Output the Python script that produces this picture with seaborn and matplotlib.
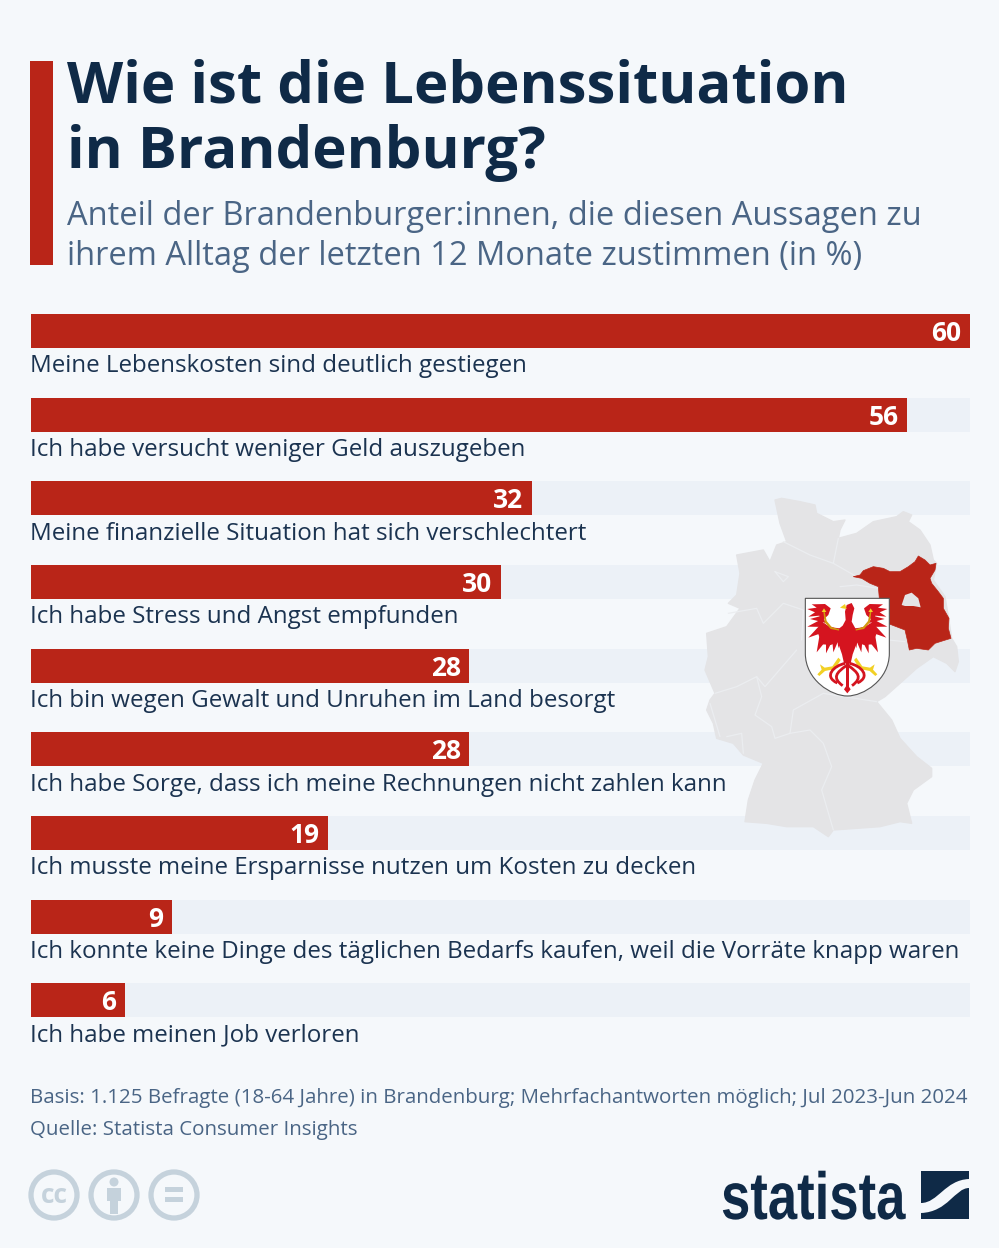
import numpy as np
import pandas as pd
import matplotlib
matplotlib.use('Agg')
import matplotlib.pyplot as plt
from matplotlib.patches import Polygon, PathPatch, Circle, Rectangle
from matplotlib.path import Path
from matplotlib.patheffects import AbstractPathEffect
from matplotlib.transforms import Affine2D
import seaborn as sns

# Data
statements = ['Meine Lebenskosten sind deutlich gestiegen',
              'Ich habe versucht weniger Geld auszugeben',
              'Meine finanzielle Situation hat sich verschlechtert',
              'Ich habe Stress und Angst empfunden',
              'Ich bin wegen Gewalt und Unruhen im Land besorgt',
              'Ich habe Sorge, dass ich meine Rechnungen nicht zahlen kann',
              'Ich musste meine Ersparnisse nutzen um Kosten zu decken',
              'Ich konnte keine Dinge des täglichen Bedarfs kaufen, weil die Vorräte knapp waren',
              'Ich habe meinen Job verloren']
shares = [60, 56, 32, 30, 28, 28, 19, 9, 6]
axis_max = 60

title_lines = ['Wie ist die Lebenssituation', 'in Brandenburg?']
subtitle_lines = ['Anteil der Brandenburger:innen, die diesen Aussagen zu',
                  'ihrem Alltag der letzten 12 Monate zustimmen (in %)']
footer_lines = ['Basis: 1.125 Befragte (18-64 Jahre) in Brandenburg; Mehrfachantworten möglich; Jul 2023-Jun 2024',
                'Quelle: Statista Consumer Insights']

# Colours
BG = '#f5f8fb'
RED = '#b92518'
TRACK = '#ecf1f7'
NAVY = '#0f2a47'
SLATE = '#4a6585'
LABEL = '#1b3350'
MAP_GREY = '#e4e4e6'
ICON = '#c5d2dc'
W, H = 999, 1248

sns.set_theme(style='white')
plt.rcParams['font.family'] = ['Open Sans', 'DejaVu Sans']

fig = plt.figure(figsize=(W / 100, H / 100), dpi=100, facecolor=BG)
px = Affine2D().scale(1 / W, -1 / H).translate(0, 1) + fig.transFigure


def put(x, y, s, **kw):
    return fig.text(x / W, 1 - y / H, s, va='baseline', **kw)


class Squeeze(AbstractPathEffect):
    # narrows the glyphs, no condensed bold font is installed
    def __init__(self, sx):
        super().__init__()
        self.sx = sx

    def draw_path(self, renderer, gc, tpath, affine, rgbFace=None):
        renderer.draw_path(gc, tpath, Affine2D().scale(self.sx, 1) + affine, rgbFace)


# bars: rows are 83.65px apart, bars 34px high
step = 83.65
top = 331 - step / 2
ax = fig.add_axes([31 / W, 1 - (top + 9 * step) / H, 939 / W, 9 * step / H])
ax.patch.set_alpha(0)
df = pd.DataFrame({'statement': statements, 'share': shares, 'full': axis_max})
sns.barplot(data=df, y='statement', x='full', color=TRACK, saturation=1, width=34 / step,
            linewidth=0, zorder=1, ax=ax)
sns.barplot(data=df, y='statement', x='share', color=RED, saturation=1, width=34 / step,
            linewidth=0, zorder=3, ax=ax)
ax.set_xlim(0, axis_max)
ax.set_ylim(8.5, -0.5)
ax.set(xlabel='', ylabel='', xticks=[], yticks=[])
sns.despine(ax=ax, left=True, bottom=True)

labels = ax.bar_label(ax.containers[-1], padding=-6.2, color='white', fontsize=19,
                      fontweight='bold', zorder=5)
for t in labels:
    t.set_ha('right')
    t.xyann = (t.xyann[0], t.xyann[1] - 1.8)

for i, s in enumerate(statements):
    put(30, 372.5 + i * step, s, color=LABEL, fontsize=17.4, zorder=6)


# map, traced in the 3x crop coordinates
def z(pts):
    a = np.array(pts, dtype=float)
    return np.column_stack([700 + a[:, 0] / 3, 480 + a[:, 1] / 3])


def zb(pts):
    a = np.array(pts, dtype=float)
    return np.column_stack([850 + a[:, 0] / 3, 550 + a[:, 1] / 3])


def ze(pts):
    a = np.array(pts, dtype=float)
    return np.column_stack([800 + a[:, 0] / 3, 595 + a[:, 1] / 3])


def mirror(pts):
    return [(284 - x, y) for x, y in pts]


germany = [(245, 55), (300, 65), (345, 75), (350, 100), (400, 125), (435, 120), (420, 150), (415, 175),
           (470, 160), (520, 125), (590, 110), (610, 95), (635, 105), (625, 125), (660, 150), (690, 195),
           (700, 240), (710, 250), (700, 300), (735, 350), (745, 410), (755, 475), (770, 500), (775, 545),
           (765, 575), (740, 550), (700, 530), (650, 565), (600, 610), (555, 650), (530, 665), (575, 720),
           (600, 775), (650, 830), (695, 865), (695, 890), (640, 930), (620, 970), (635, 1030), (600, 1025),
           (540, 1040), (470, 1045), (400, 1050), (385, 1070), (340, 1040), (260, 1040), (200, 1030),
           (135, 1025), (145, 960), (165, 900), (190, 850), (130, 825), (100, 790), (50, 775), (40, 730),
           (20, 690), (30, 660), (45, 640), (15, 570), (25, 530), (20, 460), (80, 440), (120, 385), (85, 370),
           (110, 345), (120, 280), (110, 225), (190, 210), (210, 245), (230, 195), (260, 185), (240, 130),
           (225, 60)]
brandenburg = [(10, 80), (30, 75), (40, 62), (70, 50), (100, 55), (120, 65), (150, 65), (175, 50), (195, 35),
               (205, 18), (225, 30), (240, 45), (258, 40), (255, 60), (240, 85), (245, 100), (265, 125),
               (280, 145), (280, 175), (297, 205), (295, 235), (303, 265), (280, 272), (255, 280), (235, 300),
               (200, 295), (178, 300), (172, 270), (165, 240), (118, 222), (118, 145), (88, 145), (85, 110),
               (60, 100), (35, 85)]
berlin = [(155, 165), (165, 135), (185, 128), (205, 145), (212, 172), (190, 168), (165, 168)]
state_borders = [
    [(250, 185), (330, 225), (400, 250), (415, 175)],
    [(400, 250), (470, 290)],
    [(420, 320), (470, 315), (535, 325)],
    [(85, 400), (170, 385), (190, 430), (250, 370), (310, 390), (305, 480)],
    [(45, 640), (110, 620), (170, 590), (195, 620), (290, 510)],
    [(170, 590), (185, 650), (165, 705), (215, 740), (225, 775), (270, 760), (330, 750), (370, 790), (395, 860),
     (365, 930), (400, 1050)],
    [(30, 670), (60, 770)],
    [(270, 760), (280, 690), (370, 640), (530, 665)],
    [(565, 480), (615, 485)],
    [(80, 770), (125, 760), (130, 820)],
    [(225, 275), (265, 290), (250, 305), (225, 275)],
]
ax.add_patch(Polygon(z(germany), transform=px, fc=MAP_GREY, ec=MAP_GREY, lw=1, joinstyle='round', zorder=2,
                     clip_on=False))
for line in state_borders:
    xy = z(line)
    ax.plot(xy[:, 0], xy[:, 1], transform=px, color='#ebedf0', lw=0.9, zorder=2.1, clip_on=False,
            scalex=False, scaley=False)
ax.add_patch(Polygon(zb(brandenburg), transform=px, fc=RED, ec=RED, lw=0.5, joinstyle='round', zorder=2.2,
                     clip_on=False))
ax.add_patch(Polygon(zb(berlin), transform=px, fc=MAP_GREY, ec='none', zorder=2.3, clip_on=False))

# coat of arms
shield = z([(316, 355), (568, 355), (568, 520), (568, 600), (490, 648), (442, 648),
            (394, 648), (316, 600), (316, 520), (316, 355)])
codes = [Path.MOVETO, Path.LINETO, Path.LINETO, Path.CURVE4, Path.CURVE4, Path.CURVE4,
         Path.CURVE4, Path.CURVE4, Path.CURVE4, Path.CLOSEPOLY]
ax.add_patch(PathPatch(Path(shield, codes), transform=px, fc='white', ec='#555555', lw=0.8,
                       zorder=4, clip_on=False))
EAGLE = '#d5141f'
GOLD = '#f2d024'
AMBER = '#d2980f'
upper_wing = [(92, 40), (75, 27), (35, 28), (50, 38), (22, 42), (45, 52), (25, 65), (58, 62), (62, 75), (72, 72),
              (85, 60)]
feathers = [[(66, 62), (78, 84), (30, 72)],
            [(62, 74), (82, 96), (22, 95)],
            [(62, 88), (88, 106), (25, 128)],
            [(62, 100), (88, 125), (50, 172)],
            [(78, 102), (106, 120), (78, 175)],
            [(94, 105), (120, 125), (100, 172)],
            [(108, 105), (124, 125), (115, 160)]]
lower_wing = [(118, 105), (75, 88), (55, 118), (68, 148), (92, 150), (118, 140)]
shoulder = [(120, 100), (85, 96), (72, 82), (78, 108), (118, 120)]
arc = [(70, 50), (74, 50), (80, 78), (95, 96), (118, 103), (118, 107), (92, 102), (74, 82)]
knob = [(72, 40), (79, 51), (65, 51)]
leg = [(115, 188), (122, 195), (105, 222), (75, 228), (58, 243), (52, 238), (65, 224), (60, 208), (74, 218),
       (97, 214)]
body = [(118, 100), (128, 92), (137, 75), (135, 50), (140, 30), (155, 24), (163, 40), (158, 60), (155, 80), (166, 100),
        (172, 140), (158, 178), (152, 205), (132, 205), (126, 178), (113, 140)]
tip = [(142, 268), (152, 283), (142, 295), (132, 283)]
beak = [(120, 38), (135, 27), (140, 42), (128, 40)]
curves = [[(136, 205), (100, 212), (70, 245), (112, 264)],
          [(139, 212), (110, 232), (95, 248), (128, 272)]]


def mark(pts, col, zo=4.1):
    ax.add_patch(Polygon(ze(pts), transform=px, fc=col, ec='none', zorder=zo, clip_on=False))


for part, col in [(upper_wing, EAGLE), (lower_wing, EAGLE), (shoulder, EAGLE), (arc, AMBER), (knob, GOLD), (leg, GOLD)]:
    mark(part, col, 4.15)
    mark(mirror(part), col, 4.15)
for part in feathers:
    mark(part, EAGLE)
    mark(mirror(part), EAGLE)
for c in curves:
    for pts in (c, mirror(c)):
        ax.add_patch(PathPatch(Path(ze(pts), [Path.MOVETO, Path.CURVE4, Path.CURVE4, Path.CURVE4]), transform=px,
                               fc='none', ec=EAGLE, lw=2, zorder=4.2, clip_on=False))
ax.add_patch(Rectangle(tuple(ze([(139, 200)])[0]), 2.2, 25, transform=px, fc=EAGLE, ec='none', zorder=4.2,
                       clip_on=False))
mark(tip, EAGLE, 4.2)
mark(body, EAGLE, 4.2)
mark(beak, GOLD, 4.3)

# header
ax.add_patch(Rectangle((30, 61), 23, 204, transform=px, fc=RED, ec='none', clip_on=False))
for y, s in zip([102.5, 168.5], title_lines):
    put(67, y, s, color=NAVY, fontsize=41.85, fontweight='bold')
for y, s in zip([225, 265], subtitle_lines):
    put(67, y, s, color=SLATE, fontsize=23.5)

# footer
for y, s in zip([1103.5, 1135.5], footer_lines):
    put(30, y, s, color=SLATE, fontsize=14.75)

for cx in [54, 114, 174]:
    ax.add_patch(Circle((cx, 1195), 23, transform=px, fc='none', ec=ICON, lw=3.8, clip_on=False))
put(54, 1203, 'cc', color=ICON, fontsize=19, fontweight='bold', ha='center')
ax.add_patch(Circle((114, 1182), 4.5, transform=px, fc=ICON, ec='none', clip_on=False))
ax.add_patch(Rectangle((107, 1188), 14, 13, transform=px, fc=ICON, ec='none', clip_on=False))
ax.add_patch(Rectangle((110, 1200), 8, 14, transform=px, fc=ICON, ec='none', clip_on=False))
ax.add_patch(Rectangle((165, 1187), 18, 5, transform=px, fc=ICON, ec='none', clip_on=False))
ax.add_patch(Rectangle((165, 1197), 18, 5, transform=px, fc=ICON, ec='none', clip_on=False))

# logo
logo = put(721, 1219, 'statista', color=NAVY, fontsize=48, fontweight='bold',
           family=['Liberation Sans', 'DejaVu Sans'])
logo.set_path_effects([Squeeze(0.79)])
ax.add_patch(Rectangle((921, 1171), 48, 48, transform=px, fc=NAVY, ec='none', clip_on=False))
wave = [(921, 1203), (938, 1203), (945, 1180), (969, 1179), (969, 1188), (955, 1188), (948, 1212), (921, 1213),
        (921, 1203)]
wave_codes = [Path.MOVETO, Path.CURVE4, Path.CURVE4, Path.CURVE4, Path.LINETO, Path.CURVE4, Path.CURVE4,
              Path.CURVE4, Path.CLOSEPOLY]
ax.add_patch(PathPatch(Path(np.array(wave, dtype=float), wave_codes), transform=px, fc=BG, ec='none', clip_on=False))

fig.savefig('out.png', dpi=100, facecolor=BG)
